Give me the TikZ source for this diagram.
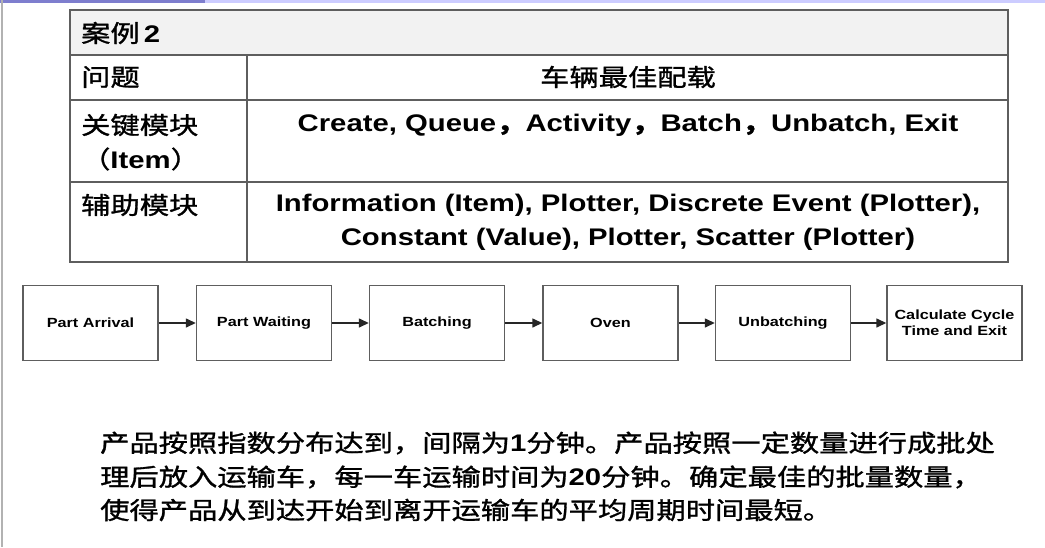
\documentclass[tikz,border=0pt]{standalone}
\usepackage{fontspec}
\setmainfont{Liberation Sans}[FakeStretch=1.22]
\newfontfamily\cjk{Noto Sans CJK SC}[FakeStretch=1.22, FakeBold=1.2]
\usetikzlibrary{arrows.meta}
\newcommand\lb[1]{{\normalfont\bfseries #1}}
\definecolor{hdrfill}{HTML}{F2F2F2}
\definecolor{linegray}{HTML}{5E5E5E}
\tikzset{
  tbl/.style={draw=linegray, line width=1.8pt},
  txt/.style={inner sep=0pt, font=\cjk\fontsize{24}{30}\selectfont},
  ltxt/.style={inner sep=0pt, font=\bfseries\fontsize{24}{34}\selectfont, align=center},
  blk/.style={draw=linegray, line width=1.4pt, minimum width=135pt, minimum height=75pt, inner sep=2pt,
    font=\bfseries\fontsize{13.3}{16}\selectfont, align=center},
  arr/.style={-{Triangle[length=10pt,width=9pt]}, line width=1.4pt, black!85},
}
\begin{document}
\begin{tikzpicture}[x=1pt,y=-1pt]
\useasboundingbox (0,0) rectangle (1045,547);
\fill[white] (0,0) rectangle (1045,547);
% slide edge artefacts
\fill[blue!45!gray!70] (0,0) rectangle (205,2.5);
\fill[blue!20] (205,0) rectangle (1045,2.5);
\draw[black!30, line width=1.5pt] (2,0) -- (2,547);
% table
\fill[hdrfill] (70,10) rectangle (1008,55);
\draw[tbl] (70,10) rectangle (1008,262);
\draw[tbl] (70,55) -- (1008,55);
\draw[tbl] (70,100) -- (1008,100);
\draw[tbl] (70,182) -- (1008,182);
\draw[tbl] (247,55) -- (247,262);
\node[txt, anchor=west] (case) at (81,33) {案例\,\lb{2}};
\node[txt, anchor=west] (q) at (81,77) {问题};
\node[txt] (qa) at (628,77) {车辆最佳配载};
\node[txt, anchor=west] (k1) at (81,125) {关键模块};
\node[txt, anchor=west] (k2) at (81,159) {（\lb{Item}）};
\node[ltxt] (ka) at (628,125) {Create, Queue{\cjk ，}Activity{\cjk ，}Batch{\cjk ，}Unbatch, Exit};
\node[txt, anchor=west] (a1) at (81,205) {辅助模块};
\node[ltxt] (aa) at (628,222) {Information (Item), Plotter, Discrete Event (Plotter),\\Constant (Value), Plotter, Scatter (Plotter)};
% flow
\node[blk] (b1) at (90.5,323) {Part Arrival};
\node[blk] (b2) at (264,323) {Part Waiting};
\node[blk] (b3) at (437,323) {Batching};
\node[blk] (b4) at (610.5,323) {Oven};
\node[blk] (b5) at (783,323) {Unbatching};
\node[blk] (b6) at (954.5,323) {Calculate Cycle\\Time and Exit};
\draw[arr] (b1) -- (b2);
\draw[arr] (b2) -- (b3);
\draw[arr] (b3) -- (b4);
\draw[arr] (b4) -- (b5);
\draw[arr] (b5) -- (b6);
% paragraph
\node[txt, anchor=west] (p1) at (100,443) {产品按照指数分布达到，间隔为\lb{1}分钟。产品按照一定数量进行成批处};
\node[txt, anchor=west] (p2) at (100,477) {理后放入运输车，每一车运输时间为\lb{20}分钟。确定最佳的批量数量，};
\node[txt, anchor=west] (p3) at (100,510) {使得产品从到达开始到离开运输车的平均周期时间最短。};
\end{tikzpicture}
\end{document}
